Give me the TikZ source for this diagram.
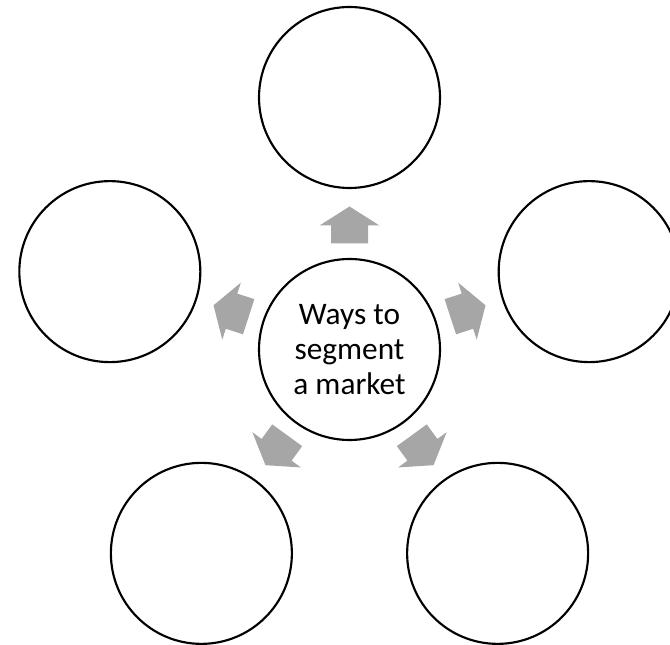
\documentclass[tikz,border=0pt]{standalone}
\usepackage{fontspec}
\setmainfont{Carlito}
\usetikzlibrary{calc}
\definecolor{arrowgray}{RGB}{166,166,166}
\begin{document}
\begin{tikzpicture}[x=0.75pt,y=0.75pt,
  ring/.style={circle,draw=black,fill=white,line width=1.6pt,minimum size=135.75pt,inner sep=0pt},
  spoke/.style={fill=arrowgray,draw=none}]
\useasboundingbox (0,0) rectangle (670,645);
\clip (0,0) rectangle (670,645);
\coordinate (o) at (349.5,295.5);
% central idea
\node[ring, align=center, font=\fontsize{23.5}{26.5}\selectfont] (hub) at (o) {Ways to\\segment\\a market};
% outer empty circles on a pentagon
\foreach \a/\n in {90/ctop,162/cleft,234/cbl,306/cbr,18/cright} {
  \node[ring] (\n) at ($(o)+(\a:252)$) {};
}
% block arrows pointing outward from the hub
\foreach \a in {90,162,234,306,18} {
  \begin{scope}[shift={(o)}, rotate=\a]
    \fill[spoke] (106,-18.5) -- (124,-18.5) -- (124,-30) -- (143,0)
      -- (124,30) -- (124,18.5) -- (106,18.5) -- cycle;
  \end{scope}
}
\end{tikzpicture}
\end{document}
